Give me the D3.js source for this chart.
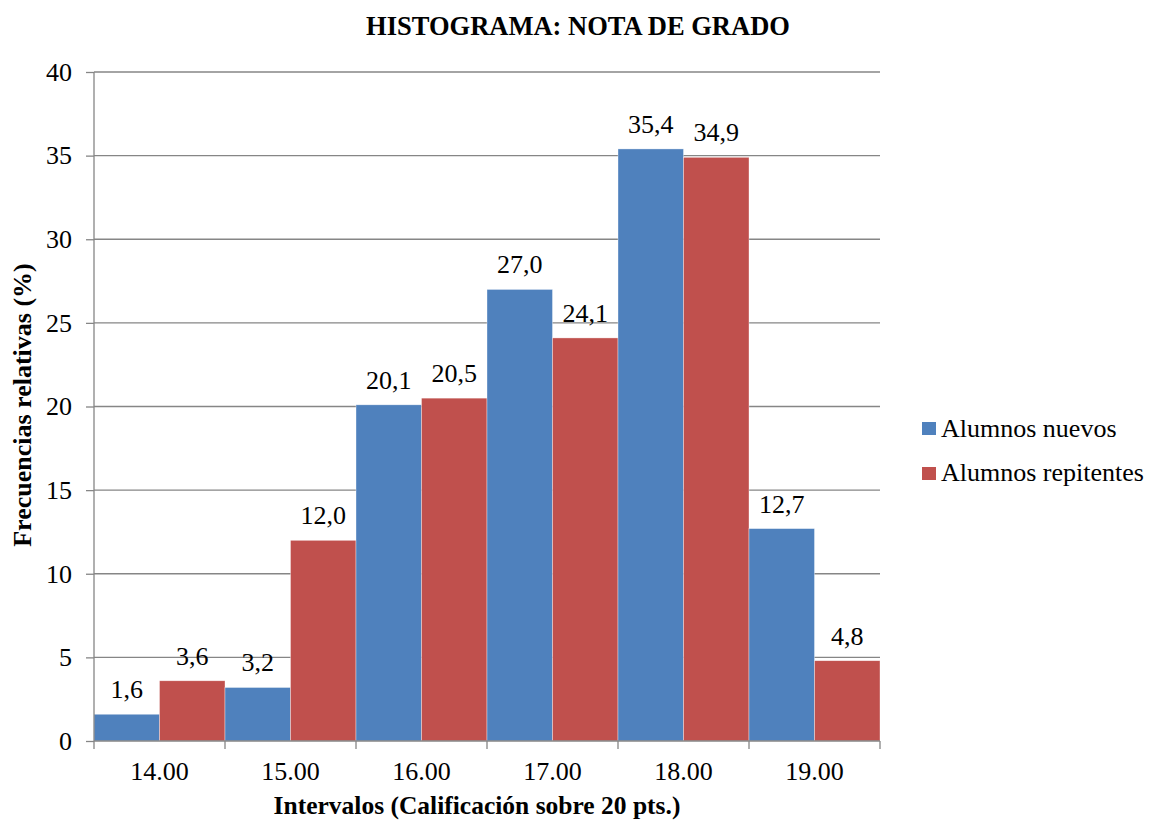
<!DOCTYPE html>
<html><head><meta charset="utf-8">
<script src="https://cdn.jsdelivr.net/npm/d3@7"></script>
<style>body{margin:0;background:#fff}</style>
</head><body>
<svg id="c" width="1151" height="822"></svg>
<script>
const categories = ["14.00","15.00","16.00","17.00","18.00","19.00"];
const seriesNames = ["Alumnos nuevos","Alumnos repitentes"];
const nuevos = [1.6, 3.2, 20.1, 27.0, 35.4, 12.7];
const repitentes = [3.6, 12.0, 20.5, 24.1, 34.9, 4.8];
const yTicks = [0,5,10,15,20,25,30,35,40];
const colors = ["#4F81BD","#C0504D"];

const svg = d3.select("#c");
const font = "'Liberation Serif','Times New Roman',serif";
const m = {left:94, right:880, top:72, bottom:741};
const x = d3.scaleBand().domain(categories).range([m.left,m.right]).padding(0);
const xs = d3.scaleBand().domain(seriesNames).range([0,x.bandwidth()]).padding(0);
const y = d3.scaleLinear().domain([0,40]).range([m.bottom,m.top]);

// gridlines
svg.append("g").selectAll("line").data(yTicks.filter(d=>d>0)).join("line")
  .attr("x1",m.left).attr("x2",m.right).attr("y1",d=>y(d)).attr("y2",d=>y(d))
  .attr("stroke","#868686").attr("stroke-width",1.3);

// bars
const data = categories.map((c,i)=>({c, vals:[nuevos[i],repitentes[i]]}));
const g = svg.append("g");
data.forEach(d=>{
  d.vals.forEach((v,j)=>{
    g.append("rect").attr("x",x(d.c)+xs(seriesNames[j])).attr("y",y(v))
      .attr("width",xs.bandwidth()).attr("height",y(0)-y(v))
      .attr("fill",colors[j]).attr("stroke","#fff").attr("stroke-width",0.6).attr("stroke-opacity",0.6);
    g.append("text").attr("x",x(d.c)+xs(seriesNames[j])+xs.bandwidth()/2).attr("y",y(v)-16)
      .attr("text-anchor","middle").attr("font-family",font).attr("font-size",26).attr("fill","#000")
      .text(v.toFixed(1).replace(".",","));
  });
});

// y axis
const ya = svg.append("g").attr("transform",`translate(${m.left},0)`)
  .call(d3.axisLeft(y).tickValues(yTicks).tickSize(8).tickPadding(14).tickFormat(d3.format("d")));
ya.select(".domain").attr("stroke","#868686").attr("stroke-width",1.3).attr("d",`M0,${m.top}V${m.bottom}`);
ya.selectAll(".tick line").attr("stroke","#868686").attr("stroke-width",1.3);
ya.selectAll("text").attr("font-family",font).attr("font-size",26).attr("fill","#000");

// x axis
const xa = svg.append("g").attr("transform",`translate(0,${m.bottom})`)
  .call(d3.axisBottom(x).tickSize(0).tickPadding(0));
xa.select(".domain").attr("stroke","#868686").attr("stroke-width",1.3).attr("d",`M${m.left},0H${m.right}`);
xa.selectAll("text").attr("font-family",font).attr("font-size",26).attr("fill","#000")
  .attr("dy",null).attr("y",39);
const bounds = categories.map(c=>x(c)).concat([m.right]);
svg.append("g").selectAll("line").data(bounds).join("line")
  .attr("x1",d=>d).attr("x2",d=>d).attr("y1",m.bottom).attr("y2",m.bottom+8)
  .attr("stroke","#868686").attr("stroke-width",1.3);

// titles
svg.append("text").attr("x",578).attr("y",35).attr("text-anchor","middle")
  .attr("font-family",font).attr("font-size",26.5).attr("font-weight","bold").text("HISTOGRAMA: NOTA DE GRADO");
svg.append("text").attr("x",477).attr("y",814).attr("text-anchor","middle")
  .attr("font-family",font).attr("font-size",25.5).attr("font-weight","bold").text("Intervalos (Calificación sobre 20 pts.)");
svg.append("text").attr("transform","translate(31,405) rotate(-90)").attr("text-anchor","middle")
  .attr("font-family",font).attr("font-size",26).attr("font-weight","bold").text("Frecuencias relativas (%)");

// legend
const lg = svg.append("g");
seriesNames.forEach((s,i)=>{
  lg.append("rect").attr("x",922).attr("y",422+i*45).attr("width",14).attr("height",13).attr("fill",colors[i]);
  lg.append("text").attr("x",941).attr("y",437+i*44).attr("font-family",font).attr("font-size",26).attr("fill","#000").text(s);
});
</script>
</body></html>
